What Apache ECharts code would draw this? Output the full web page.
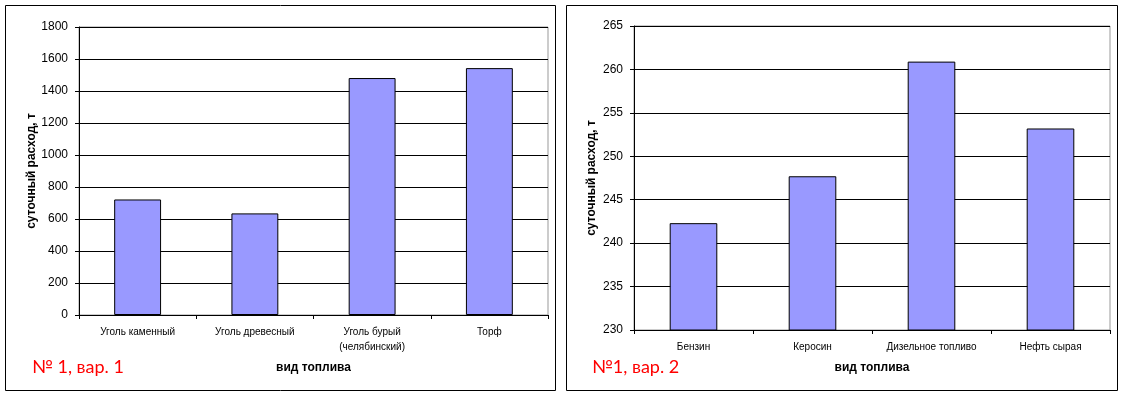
<!DOCTYPE html>
<html>
<head>
<meta charset="utf-8">
<script src="https://cdn.jsdelivr.net/npm/echarts@6/dist/echarts.min.js"></script>
<style>
html,body{margin:0;padding:0;background:#fff;}
#c{width:1129px;height:397px;}
</style>
</head>
<body>
<div id="c"></div>
<script>
// Chart 1 data
const categories1 = ['Уголь каменный', 'Уголь древесный', 'Уголь бурый\n(челябинский)', 'Торф'];
const values1 = [722, 635, 1481, 1543];
// Chart 2 data
const categories2 = ['Бензин', 'Керосин', 'Дизельное топливо', 'Нефть сырая'];
const values2 = [242.3, 247.7, 260.9, 253.2];

const yName = 'суточный расход, т';
const xName = 'вид топлива';
const caption1 = '№ 1, вар. 1';
const caption2 = '№1, вар. 2';

const FONT = '"Liberation Sans", Arial, sans-serif';
const chart = echarts.init(document.getElementById('c'), null, {renderer: 'canvas'});

function xAxis(gridIndex, data, gap) {
  return {
    type: 'category', gridIndex: gridIndex, data: data,
    axisLine: {lineStyle: {color: '#000', width: 1}},
    axisTick: {show: true, alignWithLabel: false, length: 4, lineStyle: {color: '#000'}},
    axisLabel: {interval: 0, color: '#000', fontSize: 10, fontFamily: FONT, margin: 10, lineHeight: 15},
    splitLine: {show: false},
    name: xName, nameLocation: 'middle', nameGap: gap,
    nameTextStyle: {color: '#000', fontSize: 12, fontWeight: 'bold', fontFamily: FONT}
  };
}
function yAxis(gridIndex, min, max, interval, gap) {
  return {
    type: 'value', gridIndex: gridIndex, min: min, max: max, interval: interval,
    axisLine: {show: true, lineStyle: {color: '#000', width: 1}},
    axisTick: {show: true, length: 4, lineStyle: {color: '#000'}},
    axisLabel: {color: '#000', fontSize: 12, fontFamily: FONT, margin: 11, formatter: function (v) { return String(v); }},
    splitLine: {show: true, lineStyle: {color: '#000', width: 1}},
    name: yName, nameLocation: 'middle', nameGap: gap, nameRotate: 90,
    nameTextStyle: {color: '#000', fontSize: 12, fontWeight: 'bold', fontFamily: FONT}
  };
}
const barStyle = {color: '#9999ff', borderColor: '#000', borderWidth: 1};

chart.setOption({
  animation: false,
  backgroundColor: '#fff',
  title: [
    {text: caption1, left: 32, top: 358, padding: 0,
     textStyle: {color: '#ff0000', fontSize: 18, fontWeight: 'normal', fontFamily: 'Lato, "Open Sans", sans-serif'}},
    {text: caption2, left: 592, top: 358, padding: 0,
     textStyle: {color: '#ff0000', fontSize: 18, fontWeight: 'normal', fontFamily: 'Lato, "Open Sans", sans-serif'}}
  ],
  grid: [
    {left: 79, right: 581, top: 27, bottom: 82, show: true, borderColor: '#999', borderWidth: 1, backgroundColor: 'transparent'},
    {left: 634, right: 19, top: 26, bottom: 67, show: true, borderColor: '#999', borderWidth: 1, backgroundColor: 'transparent'}
  ],
  xAxis: [xAxis(0, categories1, 47), xAxis(1, categories2, 32)],
  yAxis: [yAxis(0, 0, 1800, 200, 39), yAxis(1, 230, 265, 5, 36)],
  series: [
    {type: 'bar', xAxisIndex: 0, yAxisIndex: 0, data: values1, barWidth: '40%', itemStyle: barStyle},
    {type: 'bar', xAxisIndex: 1, yAxisIndex: 1, data: values2, barWidth: '40%', itemStyle: barStyle}
  ],
  graphic: [
    {type: 'rect', shape: {x: 5.5, y: 5.5, width: 550, height: 385}, style: {fill: 'none', stroke: '#000', lineWidth: 1}, silent: true},
    {type: 'rect', shape: {x: 566.5, y: 5.5, width: 551, height: 385}, style: {fill: 'none', stroke: '#000', lineWidth: 1}, silent: true}
  ]
});
</script>
</body>
</html>
